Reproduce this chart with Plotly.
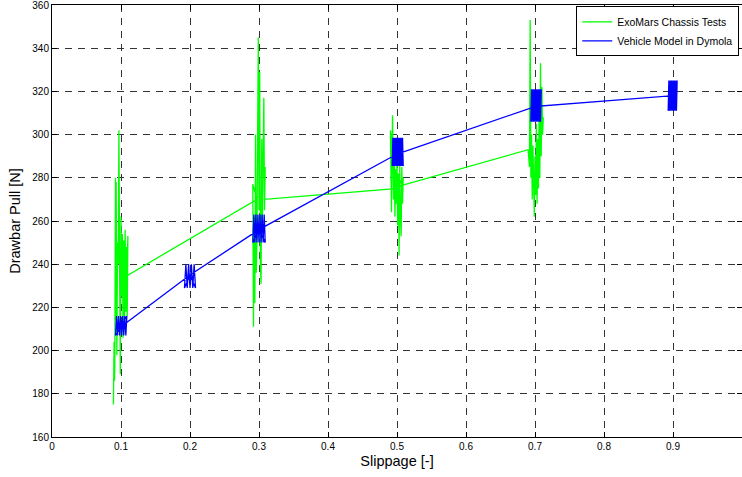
import plotly.graph_objects as go

# ---------------- data ----------------
# ExoMars Chassis Tests (green) – noisy measurement clusters at each slippage level
green_x_a = [0.089, 0.090, 0.0905, 0.091, 0.092, 0.0925, 0.093, 0.094, 0.095, 0.096, 0.097, 0.098, 0.099,
             0.100, 0.101, 0.102, 0.103, 0.104, 0.105, 0.106, 0.107, 0.108, 0.109, 0.110, 0.108, 0.105]
green_y_a = [175, 204, 186, 192, 280, 214, 278, 198, 250, 240, 302, 238, 189,
             262, 225, 254, 206, 251, 212, 256, 218, 248, 216, 253, 232, 234]

green_x_b = [0.297, 0.291, 0.2915, 0.292, 0.293, 0.294, 0.295, 0.296, 0.297, 0.299, 0.300, 0.301, 0.302,
             0.303, 0.304, 0.305, 0.306, 0.307, 0.308, 0.309, 0.308]
green_y_b = [270, 277, 230, 211, 262, 222, 300, 236, 250, 345, 265, 329, 240,
             231, 298, 260, 290, 317, 265, 285, 270]

green_x_c = [0.497, 0.4905, 0.492, 0.4935, 0.495, 0.496, 0.497, 0.498, 0.499, 0.500, 0.501, 0.502,
             0.503, 0.504, 0.505, 0.506, 0.507, 0.508, 0.509, 0.502]
green_y_c = [275, 302, 264, 309, 270, 290, 262, 284, 268, 288, 258, 282,
             244, 286, 262, 253, 285, 268, 280, 276]

green_x_d = [0.690, 0.692, 0.693, 0.694, 0.695, 0.696, 0.697, 0.698, 0.699, 0.700, 0.701, 0.702,
             0.703, 0.704, 0.705, 0.706, 0.707, 0.708, 0.709, 0.710, 0.711, 0.712]
green_y_d = [293, 285, 353, 280, 300, 270, 295, 265, 262, 290, 272, 305,
             268, 298, 275, 310, 280, 333, 290, 322, 300, 308]

# Vehicle Model in Dymola (blue) – oscillating model output at each slippage level
blue_x_1 = [0.100, 0.092, 0.0935, 0.095, 0.0965, 0.098, 0.0995, 0.101, 0.1025,
            0.104, 0.1055, 0.107, 0.1085, 0.100]
blue_y_1 = [211, 207, 216, 207, 216, 207, 216, 207, 216,
            207, 216, 207, 216, 211]

blue_x_2 = [0.200, 0.192, 0.194, 0.196, 0.198, 0.200, 0.202, 0.204, 0.206, 0.208, 0.200]
blue_y_2 = [235, 229, 240, 229, 240, 229, 240, 229, 240, 229, 235]

blue_x_3 = [0.300, 0.291, 0.2925, 0.294, 0.2955, 0.297, 0.2985, 0.300, 0.3015,
            0.303, 0.3045, 0.306, 0.3075, 0.309, 0.300]
blue_y_3 = [256, 250, 263, 250, 263, 250, 263, 250, 263,
            250, 263, 250, 263, 250, 256]

blue_x_5 = [0.500, 0.493, 0.494, 0.495, 0.496, 0.497, 0.498, 0.499, 0.500, 0.501, 0.502, 0.503,
            0.504, 0.505, 0.506, 0.507, 0.508, 0.509, 0.500]
blue_y_5 = [291, 285.5, 298.5, 285.5, 298.5, 285.5, 298.5, 285.5, 298.5, 285.5, 298.5, 285.5,
            298.5, 285.5, 298.5, 285.5, 298.5, 285.5, 291]

blue_x_7 = [0.700, 0.694, 0.695, 0.696, 0.697, 0.698, 0.699, 0.700, 0.701, 0.702, 0.703, 0.704,
            0.705, 0.706, 0.707, 0.708, 0.709, 0.700]
blue_y_7 = [313, 306, 321, 306, 321, 306, 321, 306, 321, 306, 321, 306,
            321, 306, 321, 306, 321, 313]

blue_x_9 = [0.900, 0.893, 0.894, 0.895, 0.896, 0.897, 0.898, 0.899, 0.900, 0.901, 0.902, 0.903,
            0.904, 0.905, 0.906, 0.900]
blue_y_9 = [318, 311, 325, 311, 325, 311, 325, 311, 325, 311, 325, 311,
            325, 311, 325, 318]

x_ticks = [0, 0.1, 0.2, 0.3, 0.4, 0.5, 0.6, 0.7, 0.8, 0.9]
x_tick_text = ["0", "0.1", "0.2", "0.3", "0.4", "0.5", "0.6", "0.7", "0.8", "0.9"]
y_ticks = [160, 180, 200, 220, 240, 260, 280, 300, 320, 340, 360]

green_x = green_x_a + green_x_b + green_x_c + green_x_d
green_y = green_y_a + green_y_b + green_y_c + green_y_d
blue_x = blue_x_1 + blue_x_2 + blue_x_3 + blue_x_5 + blue_x_7 + blue_x_9
blue_y = blue_y_1 + blue_y_2 + blue_y_3 + blue_y_5 + blue_y_7 + blue_y_9

FONT = "Liberation Sans, Arial, Helvetica, sans-serif"

fig = go.Figure()
fig.add_trace(go.Scatter(x=green_x, y=green_y, mode="lines", name="ExoMars Chassis Tests",
                         line=dict(color="#00ff00", width=1.3)))
fig.add_trace(go.Scatter(x=blue_x, y=blue_y, mode="lines", name="Vehicle Model in Dymola",
                         line=dict(color="#0000ff", width=1.3)))

axis_common = dict(
    showline=True, linecolor="black", linewidth=1, mirror="ticks",
    ticks="inside", ticklen=5, tickcolor="black",
    showgrid=True, gridcolor="#333333", gridwidth=1, griddash="7px,6px",
    zeroline=False, tickfont=dict(family=FONT, size=10, color="black"),
    ticklabeloverflow="allow",
)

fig.update_xaxes(range=[0, 1], tickvals=x_ticks, ticktext=x_tick_text,
                 title=dict(text="Slippage [-]", font=dict(family=FONT, size=14.5, color="black"), standoff=4),
                 **axis_common)
fig.update_yaxes(range=[160, 360], tickvals=y_ticks,
                 title=dict(text="Drawbar Pull [N]", font=dict(family=FONT, size=14.5, color="black"), standoff=8),
                 **axis_common)

fig.update_layout(
    width=742, height=477,
    margin=dict(l=52, r=0, t=5, b=40, autoexpand=False),
    paper_bgcolor="white", plot_bgcolor="white",
    showlegend=True,
    legend=dict(x=0.996, y=0.997, xanchor="right", yanchor="top",
                bgcolor="white", bordercolor="black", borderwidth=1,
                font=dict(family=FONT, size=10.5, color="black"),
                itemwidth=30, tracegroupgap=0),
)

fig.write_html("out.html", config={"displayModeBar": False},
               post_script="document.body.style.margin='0';document.body.style.overflow='hidden';")
